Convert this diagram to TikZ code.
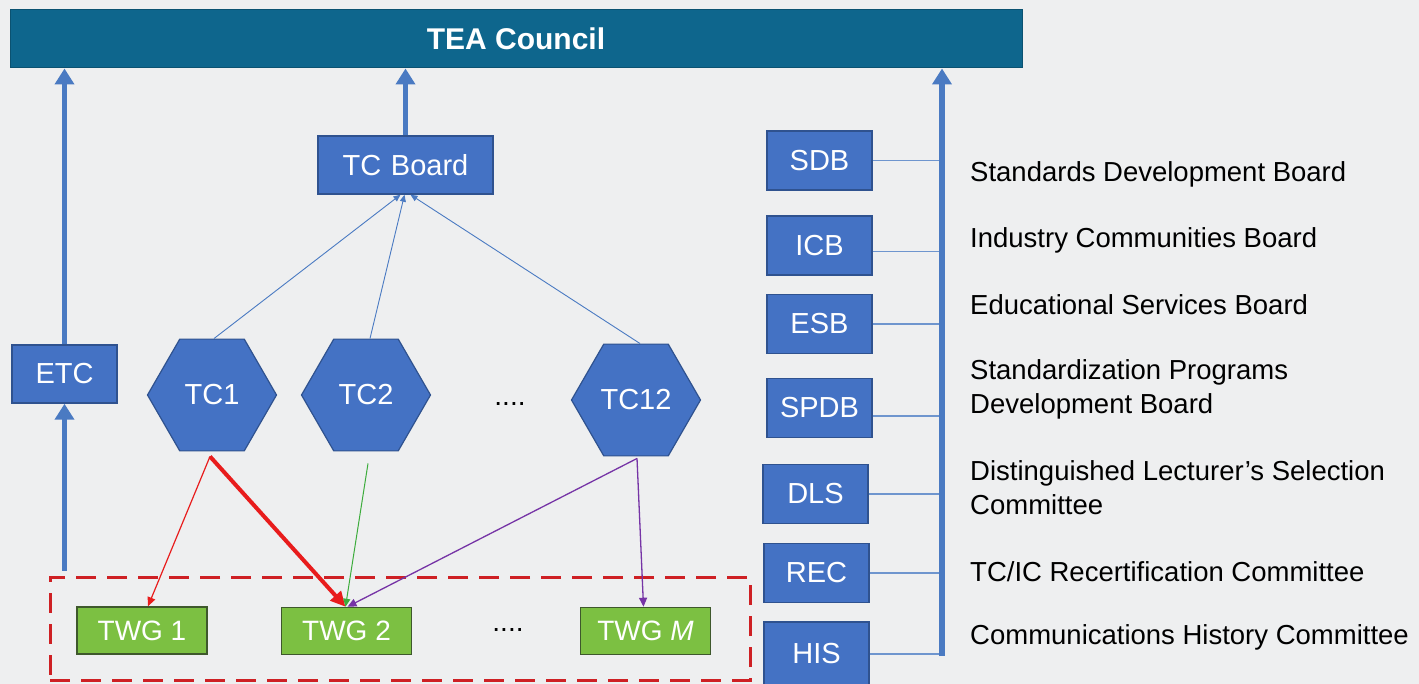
\documentclass[tikz,border=0pt]{standalone}
\usepackage{fontspec}
\setmainfont{Liberation Sans}
\usetikzlibrary{arrows.meta,shapes.geometric}
\definecolor{bgc}{RGB}{238,239,240}
\definecolor{barc}{RGB}{14,102,141}
\definecolor{boxc}{RGB}{68,114,196}
\definecolor{boxd}{RGB}{47,82,143}
\definecolor{arrc}{RGB}{74,122,194}
\definecolor{twgc}{RGB}{124,192,66}
\definecolor{twgd}{RGB}{62,88,44}
\definecolor{redc}{RGB}{232,28,28}
\definecolor{dashc}{RGB}{206,32,36}
\definecolor{grnc}{RGB}{60,172,60}
\definecolor{purc}{RGB}{118,52,166}
\begin{document}
\begin{tikzpicture}[x=1pt,y=-1pt,
  bluebox/.style={draw=boxd,line width=1.5pt,fill=boxc,text=white,inner sep=0pt,
    font=\fontsize{29}{30}\selectfont},
  hexa/.style={regular polygon,regular polygon sides=6,minimum size=129pt,inner sep=0pt,
    draw=boxd,line width=1.2pt,fill=boxc,text=white,font=\fontsize{29}{30}\selectfont},
  twg/.style={draw=twgd,line width=1.5pt,fill=twgc,text=white,inner sep=0pt,
    minimum width=130pt,minimum height=47pt,font=\fontsize{28}{30}\selectfont},
  bigarrow/.style={draw=arrc,line width=5.5pt,-{Triangle[length=16pt,width=19pt]}},
  thinarrow/.style={draw=arrc,line width=0.9pt,-{Triangle[length=7pt,width=6pt]}},
  link/.style={draw=arrc!80,line width=1.6pt},
  lbl/.style={anchor=west,align=left,inner sep=0pt,font=\fontsize{27.5}{34}\selectfont},
  dots/.style={font=\fontsize{28}{30}\selectfont,inner sep=0pt}]
\useasboundingbox (0,0) rectangle (1419,684);
\fill[bgc] (0,0) rectangle (1419,684);
% top bar
\node[draw=barc!80!black,line width=1pt,fill=barc,minimum width=1012pt,minimum height=58pt,inner sep=0pt,
  text=white,font=\fontsize{30}{32}\selectfont\bfseries] (bar) at (516,39) {TEA Council};
% TC board and ETC
\node[bluebox,minimum width=175pt,minimum height=58pt] (tcb) at (405.5,165) {TC\,\,Board};
\node[bluebox,minimum width=105pt,minimum height=58pt] (etc) at (64.5,374) {ETC};
% hexagons
\node[hexa] (tc1) at (212,395) {TC1};
\node[hexa] (tc2) at (366,395) {TC2};
\node[hexa] (tc12) at (636,400) {TC12};
\node[dots] (d1) at (510,404) {....};
% dashed group
\node[draw=dashc,dash pattern=on 20pt off 11pt,line width=3pt,minimum width=700pt,minimum height=103pt,inner sep=0pt] (grp) at (400,628.5) {};
% TWGs
\node[twg] (twg1) at (142,630.5) {TWG 1};
\node[twg] (twg2) at (346.5,631) {TWG 2};
\node[twg] (twgm) at (645.5,631) {TWG \textit{M}};
\node[dots] (d2) at (508,630) {....};
% side boxes
\node[bluebox,minimum width=105pt,minimum height=59pt] (sdb) at (819.5,160.5) {SDB};
\node[bluebox,minimum width=105pt,minimum height=59pt] (icb) at (819.5,245.5) {ICB};
\node[bluebox,minimum width=105pt,minimum height=59pt] (esb) at (819.5,324) {ESB};
\node[bluebox,minimum width=105pt,minimum height=59pt] (spdb) at (819.5,408) {SPDB};
\node[bluebox,minimum width=105pt,minimum height=59pt] (dls) at (815.5,494) {DLS};
\node[bluebox,minimum width=105pt,minimum height=59pt] (rec) at (816.5,573) {REC};
\node[bluebox,minimum width=105pt,minimum height=64pt] (his) at (816.5,654) {HIS};
% labels
\node[lbl] (lsdb) at (970,174) {Standards Development Board};
\node[lbl] (licb) at (970,240) {Industry Communities Board};
\node[lbl] (lesb) at (970,305) {Educational Services Board};
\node[lbl] (lspdb) at (970,389) {Standardization Programs\\Development Board};
\node[lbl] (ldls) at (970,488) {Distinguished Lecturer’s Selection\\Committee};
\node[lbl] (lrec) at (970,572) {TC/IC Recertification Committee};
\node[lbl] (lhis) at (970,637) {Communications History Committee};
% spine
\coordinate (sp) at (942,656);
\draw[link] (sdb.east) -- (sdb.east -| sp);
\draw[link] ([yshift=-6pt]icb.east) -- ([yshift=-6pt]icb.east -| sp);
\draw[link] (esb.east) -- (esb.east -| sp);
\draw[link] ([yshift=-8pt]spdb.east) -- ([yshift=-8pt]spdb.east -| sp);
\draw[link] (dls.east) -- (dls.east -| sp);
\draw[link] (rec.east) -- (rec.east -| sp);
\draw[link] (his.east) -- (his.east -| sp);
\draw[bigarrow] (sp) -- (sp |- bar.south);
% big blue arrows
\draw[bigarrow] ([yshift=5pt]grp.north -| etc) -- (etc.south);
\draw[bigarrow] (etc.north) -- (etc.north |- bar.south);
\draw[bigarrow] (tcb.north) -- (tcb.north |- bar.south);
% TC to board
\draw[thinarrow] ([xshift=2pt]tc1.north) -- ([xshift=-5pt]tcb.south);
\draw[thinarrow] ([xshift=4pt]tc2.north) -- ([xshift=-1pt]tcb.south);
\draw[thinarrow] ([xshift=4pt]tc12.north) -- ([xshift=5pt]tcb.south);
% TC to TWG
\draw[redc,line width=1.2pt,-{Triangle[length=9pt,width=8pt]}] ([xshift=-2pt,yshift=-5pt]tc1.south) -- ([xshift=6pt]twg1.north);
\draw[redc,line width=4pt,-{Triangle[length=15pt,width=14pt]}] ([xshift=-2pt,yshift=-5pt]tc1.south) -- ([xshift=-1pt]twg2.north);
\draw[grnc,line width=1pt,-{Triangle[length=8pt,width=7pt]}] ([xshift=2pt,yshift=-12pt]tc2.south) -- ([xshift=-1pt]twg2.north);
\draw[purc,line width=1.3pt,-{Triangle[length=9pt,width=8pt]}] ([xshift=1pt,yshift=-2pt]tc12.south) -- ([xshift=1pt]twg2.north);
\draw[purc,line width=1.3pt,-{Triangle[length=9pt,width=8pt]}] ([xshift=1pt,yshift=-2pt]tc12.south) -- ([xshift=-2pt]twgm.north);
\end{tikzpicture}
\end{document}
